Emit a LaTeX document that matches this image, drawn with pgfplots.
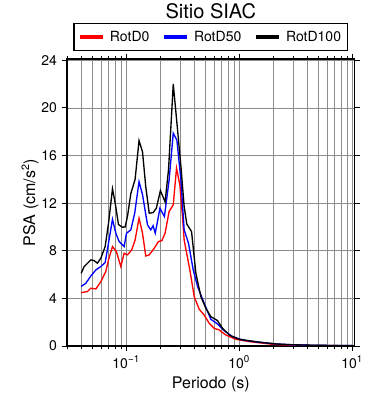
\documentclass[border=0pt]{standalone}
\usepackage{fontspec}
\setmainfont{TeX Gyre Heros}
\usepackage{pgfplots}
\pgfplotsset{compat=1.18}
\definecolor{pred}{RGB}{255,0,0}
\definecolor{pblue}{RGB}{0,0,255}
\begin{document}
\begin{tikzpicture}
\begin{axis}[name=ax, scale only axis, width=215.5pt, height=215pt,
  xmode=log, xmin=0.03, xmax=10.5, ymin=0, ymax=24.1,
  ytick={0,4,...,24},
  xtick={0.1,1,10},
  xticklabels={10\textsuperscript{−1},10\textsuperscript{0},10\textsuperscript{1}},
  minor xtick={0.03,0.04,0.05,0.06,0.07,0.08,0.09,0.2,0.3,0.4,0.5,0.6,0.7,0.8,0.9,2,3,4,5,6,7,8,9},
  grid=both,
  major grid style={black!45, line width=0.4pt},
  minor grid style={black!45, line width=0.4pt},
  tick align=outside, tick pos=both,
  major tick length=4pt, minor tick length=2.5pt,
  every tick/.style={black, line width=0.6pt},
  axis line style={line width=1pt},
  tick label style={font=\fontsize{10.5}{12}\selectfont},
  /pgf/number format/assume math mode=true,
  xlabel={Periodo (s)},
  ylabel={PSA (cm/s\textsuperscript{2})},
  xlabel style={font=\fontsize{12}{14}\selectfont, at={(axis description cs:0.5,0)}, anchor=base, yshift=-32pt},
  ylabel style={font=\fontsize{12}{14}\selectfont, at={(axis description cs:0,0.5)}, anchor=center, rotate=0, yshift=27.75pt},
  title={Sitio SIAC},
  title style={font=\fontsize{15}{18}\selectfont, at={(axis description cs:0.5,1)}, anchor=center, yshift=29.5pt},
  legend columns=3,
  legend style={at={(axis description cs:0.5,1)}, anchor=south, yshift=6pt, draw=black, line width=1pt,
    font=\fontsize{10.5}{12}\selectfont, inner xsep=3pt, inner ysep=3.5pt,
    /tikz/every odd column/.append style={column sep=2pt},
    /tikz/every even column/.append style={column sep=7.5pt}},
  legend image code/.code={\draw[line width=3pt] (0pt,0pt) -- (17pt,0pt);},
]
\addplot[pred, line width=1pt] coordinates {(0.040,4.48)(0.0455,4.57)(0.0487,4.85)(0.054,4.79)(0.0597,5.4)(0.066,6.25)(0.0698,7.23)(0.0757,8.35)(0.082,7.93)(0.0897,6.67)(0.096,7.79)(0.1028,7.65)(0.112,8.07)(0.120,8.9)(0.130,10.73)(0.1396,9.47)(0.149,7.56)(0.160,7.65)(0.177,8.2)(0.193,8.77)(0.207,8.85)(0.221,9.47)(0.240,11.3)(0.261,11.85)(0.279,14.93)(0.299,13.5)(0.315,10.87)(0.326,8.9)(0.366,6.39)(0.400,4.15)(0.443,3.08)(0.490,2.6)(0.543,1.9)(0.601,1.48)(0.665,1.34)(0.762,0.92)(0.935,0.56)(1.23,0.36)(2.11,0.11)(3,0.06)(5,0.03)(10,0.02)};
\addlegendentry{RotD0}
\addplot[pblue, line width=1pt] coordinates {(0.040,5.0)(0.044,5.27)(0.0487,5.88)(0.054,6.39)(0.0597,6.67)(0.0652,7.0)(0.0698,8.63)(0.0757,10.64)(0.081,9.47)(0.0867,8.77)(0.096,8.35)(0.1007,9.47)(0.110,9.75)(0.119,11.15)(0.130,13.8)(0.1396,12.7)(0.1545,10.17)(0.165,9.75)(0.173,10.1)(0.181,9.47)(0.199,11.57)(0.218,10.87)(0.240,13.95)(0.261,17.87)(0.281,17.3)(0.305,13.95)(0.326,9.75)(0.356,8.63)(0.392,6.39)(0.428,5.0)(0.490,3.59)(0.561,2.24)(0.643,1.85)(0.737,1.29)(0.873,0.78)(1.07,0.5)(1.50,0.31)(2.11,0.17)(3,0.09)(5,0.05)(10,0.03)};
\addlegendentry{RotD50}
\addplot[black, line width=1pt] coordinates {(0.040,6.1)(0.0425,6.67)(0.0487,7.23)(0.0521,7.17)(0.0557,6.95)(0.0597,7.37)(0.0652,8.35)(0.0698,10.3)(0.0757,13.2)(0.080,12.0)(0.0855,10.2)(0.0929,9.97)(0.098,10.0)(0.1028,10.9)(0.110,12.8)(0.120,14.0)(0.130,17.25)(0.1396,16.3)(0.149,13.4)(0.160,11.15)(0.173,11.2)(0.185,11.57)(0.201,13.05)(0.221,12.1)(0.237,14.8)(0.261,22.0)(0.284,18.3)(0.305,15.1)(0.326,11.7)(0.344,10.25)(0.379,9.6)(0.414,6.1)(0.458,4.15)(0.507,3.17)(0.561,2.46)(0.643,2.13)(0.712,1.48)(0.816,0.92)(1.0,0.56)(1.40,0.36)(2.11,0.17)(3,0.1)(5,0.05)(10,0.03)};
\addlegendentry{RotD100}
\end{axis}
\pgfresetboundingbox
\path ([shift={(-50.25pt,-40.5pt)}]ax.south west) rectangle ([shift={(26.8pt,44.25pt)}]ax.north east);
\end{tikzpicture}
\end{document}
